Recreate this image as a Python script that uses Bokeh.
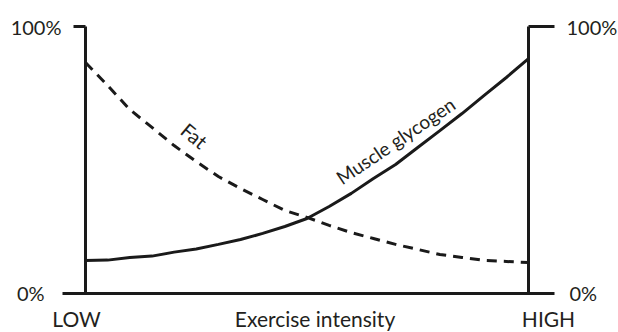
from bokeh.plotting import figure
from bokeh.models import LinearAxis, FixedTicker, Range1d, Label
from bokeh.embed import file_html
from bokeh.resources import INLINE

# ---- data ----
intensity = [0, 0.5, 1, 1.5, 2, 2.5, 3, 3.5, 4, 4.5, 5,
             5.5, 6, 6.5, 7, 7.5, 8, 8.5, 9, 9.5, 10]
glycogen = [12.4, 12.5, 13.5, 14.0, 15.5, 16.7, 18.4, 20.2, 22.5, 25.1, 28.1,
            32.6, 37.5, 43.1, 48.3, 54.7, 61.0, 67.4, 74.2, 80.9, 88.0]
fat = [86.5, 77.9, 68.9, 62.2, 55.4, 49.4, 43.8, 39.3, 35.2, 31.1, 28.5,
       25.5, 22.8, 20.6, 18.4, 16.5, 14.6, 13.5, 12.4, 12.0, 11.6]
pct_ticks = [0, 100]
pct_labels = ["0%", "100%"]
x_end_labels = ["LOW", "HIGH"]
x_title = "Exercise intensity"
series_labels = ["Fat", "Muscle glycogen"]

FONT = "Lato"
FS = "20px"
INK = "#1a1a1a"
TXT = "#231f20"

# plot frame fills the whole canvas; axes are placed at fixed data locations
p = figure(width=618, height=332, output_backend="svg", toolbar_location=None,
           x_axis_type=None, y_axis_type=None,
           x_range=Range1d(-1.919, 12.032), y_range=Range1d(-14.61, 109.74),
           min_border=0)
p.outline_line_color = None
p.background_fill_color = "white"
p.border_fill_color = "white"
p.grid.visible = False

base_bounds = (-0.519, 10.587)


def style_axis(ax, show_line=True, tick_len=0, standoff=0):
    ax.axis_line_width = 3
    ax.axis_line_color = INK if show_line else None
    ax.major_tick_line_width = 3
    ax.major_tick_line_color = INK if tick_len else None
    ax.major_tick_out = tick_len
    ax.major_tick_in = 0
    ax.minor_tick_line_color = None
    ax.major_label_standoff = standoff
    ax.major_label_text_font = FONT
    ax.major_label_text_font_size = FS
    ax.major_label_text_color = TXT


def pct_axis(loc, tick, tick_len, standoff, show_line, side):
    ax = LinearAxis(fixed_location=loc, bounds=(pct_ticks[0], pct_ticks[-1]),
                    ticker=FixedTicker(ticks=[tick]),
                    major_label_overrides={tick: pct_labels[pct_ticks.index(tick)]})
    style_axis(ax, show_line, tick_len, standoff)
    p.add_layout(ax, side)


# left axis (at LOW) and right axis (at HIGH)
pct_axis(intensity[0], pct_ticks[1], 12, 12, True, "left")
pct_axis(intensity[0], pct_ticks[0], 0, 41, False, "left")
pct_axis(intensity[-1], pct_ticks[1], 26, 12, True, "right")
pct_axis(intensity[-1], pct_ticks[0], 0, 41, False, "right")

# bottom baseline
bottom = LinearAxis(fixed_location=pct_ticks[0], bounds=base_bounds,
                    ticker=FixedTicker(ticks=[]))
style_axis(bottom, True, 0, 0)
p.add_layout(bottom, "below")

# curves
p.line(intensity, glycogen, line_color=INK, line_width=3)
p.line(intensity, fat, line_color=INK, line_width=3, line_dash="10 7")

# LOW / HIGH / title
for xv, txt, off in [(intensity[0], x_end_labels[0], -9),
                     (intensity[-1], x_end_labels[1], 20),
                     ((intensity[0] + intensity[-1]) / 2, x_title, 8)]:
    p.add_layout(Label(x=xv, y=-9.2, text=txt, x_offset=off, text_align="center",
                       text_baseline="middle", text_font=FONT, text_font_size="21px",
                       text_color=TXT))

# curve labels
p.add_layout(Label(x=2.46, y=59.2, text=series_labels[0], angle=-40, angle_units="deg",
                   text_align="center", text_baseline="middle", text_font=FONT,
                   text_font_size="20px", text_color=TXT))
p.add_layout(Label(x=7.0, y=57.3, text=series_labels[1], angle=34, angle_units="deg",
                   text_align="center", text_baseline="middle", text_font=FONT,
                   text_font_size="19px", text_color=TXT))

open("out.html", "w").write(file_html(p, INLINE))
